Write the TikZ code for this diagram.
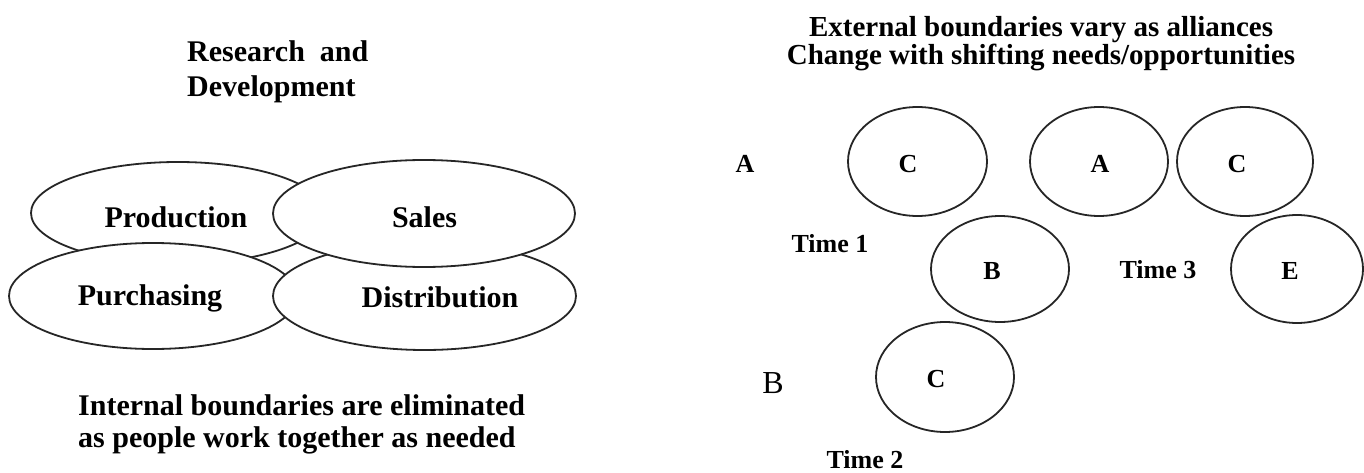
\documentclass[tikz,border=0pt]{standalone}
\usepackage{fontspec}
\setmainfont{Liberation Serif}
\usetikzlibrary{shapes.geometric}
\begin{document}
\begin{tikzpicture}[x=1pt,y=-1pt,
  oval/.style={ellipse, draw=black!85, line width=1.8pt, fill=white, inner sep=0pt},
  fn/.style={font=\fontsize{30}{34}\selectfont\bfseries, inner sep=0pt, anchor=base},
  head/.style={font=\fontsize{30}{34}\selectfont\bfseries, inner sep=0pt, anchor=base west},
  title/.style={font=\fontsize{29}{33}\selectfont\bfseries, inner sep=0pt, anchor=base},
  party/.style={font=\fontsize{26}{30}\selectfont\bfseries, inner sep=0pt, anchor=base},
  tag/.style={font=\fontsize{26}{30}\selectfont\bfseries, inner sep=0pt, anchor=base},
  outsider/.style={font=\fontsize{32}{36}\selectfont, inner sep=0pt, anchor=base}]
\useasboundingbox[fill=white] (0,0) rectangle (1364,473);

% internal functions: four overlapping ovals, later ones drawn on top
\node[oval, minimum width=294pt, minimum height=102pt] (prod)  at (178,213) {};
\node[oval, minimum width=288pt, minimum height=106pt] (purch) at (153,296) {};
\node[oval, minimum width=303pt, minimum height=108pt] (dist)  at (424.5,296) {};
\node[oval, minimum width=302pt, minimum height=107pt] (sales) at (424,213.5) {};

\node[fn] (prodT)  at (176,227)   {Production};
\node[fn] (salesT) at (424.5,227) {Sales};
\node[fn] (purchT) at (150,305)   {Purchasing};
\node[fn] (distT)  at (440,307)   {Distribution};

\node[head] (rd1) at (187,62) {Research\ \ and};
\node[head] (rd2) at (187,97) {Development};
\node[head] (in1) at (78,415) {Internal boundaries are eliminated};
\node[head] (in2) at (78,447) {as people work together as needed};

% external alliances over time
\node[title] (ex1) at (1041,37) {External boundaries vary as alliances};
\node[title] (ex2) at (1041,65) {Change with shifting needs/opportunities};

\node[oval, fill=none, minimum width=139pt, minimum height=109pt] (c1) at (917.5,161.5) {};
\node[oval, fill=none, minimum width=138pt, minimum height=109pt] (a1) at (1099,161.5) {};
\node[oval, fill=none, minimum width=136pt, minimum height=109pt] (c2) at (1245,161.5) {};
\node[oval, fill=none, minimum width=138pt, minimum height=106pt] (b1) at (1000,269) {};
\node[oval, fill=none, minimum width=132pt, minimum height=108pt] (e1) at (1297,269) {};
\node[oval, fill=none, minimum width=138pt, minimum height=110pt] (c3) at (945,377) {};

\node[party] (c1T) at (908,172)  {C};
\node[party] (a1T) at (1100,172) {A};
\node[party] (c2T) at (1237,172) {C};
\node[party] (b1T) at (992,279)  {B};
\node[party] (e1T) at (1290,279) {E};
\node[party] (c3T) at (936,387)  {C};

\node[tag] (pa) at (745,172)  {A};
\node[tag] (t1) at (830,252)  {Time 1};
\node[tag] (t3) at (1158,278) {Time 3};
\node[outsider] (pb) at (773,393) {B};
\node[tag] (t2) at (865,468)  {Time 2};
\end{tikzpicture}
\end{document}
